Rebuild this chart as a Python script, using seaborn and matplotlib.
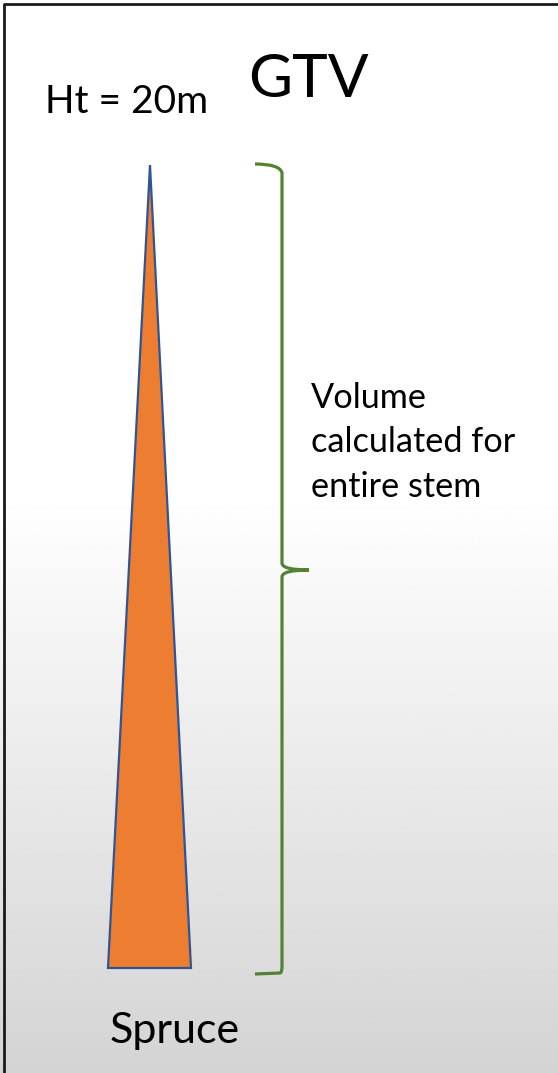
import numpy as np
import seaborn as sns
import matplotlib.pyplot as plt
from matplotlib.path import Path
from matplotlib.patches import PathPatch

# --------------------------------------------------
# DATA (pixel space of the 558 x 1073 slide crop)
# --------------------------------------------------

stem_x = [150, 108, 191]
stem_y = [165, 968, 968]

brace_x = [255, 280, 282, 282, 282, 309, 282, 282, 282, 282, 280, 255]
brace_y = [164, 164, 173, 563, 570, 570, 570, 577, 966, 973, 973, 974]

grad_pos = [0.0, 0.46, 1.0]
grad_val = [1.0, 1.0, 0.83]

labels = ["GTV", "Ht = 20m", "Volume\ncalculated for\nentire stem", "Spruce"]
label_x = [248, 45, 311, 110]
label_y = [97, 113, 408, 1043]
label_size = [43.5, 28, 24.7, 31]

# --------------------------------------------------
# FIGURE
# --------------------------------------------------

sns.set_theme(style="white")
plt.rcParams["font.family"] = ["Lato", "DejaVu Sans"]

fig = plt.figure(figsize=(5.58, 10.73), dpi=100)
ax = fig.add_axes([0, 0, 1, 1])
ax.set_xlim(0, 558)
ax.set_ylim(1073, 0)
ax.axis("off")

# background gradient
rows = np.linspace(0, 1, 400)
shade = np.interp(rows, grad_pos, grad_val)
img = np.repeat(shade[:, None], 2, axis=1)
ax.imshow(img, cmap="gray", vmin=0, vmax=1, extent=[0, 558, 1073, 0],
          aspect="auto", zorder=0)

# frame (top and left edges only visible in crop)
ax.plot([4, 4, 558], [1073, 4, 4], color="#1a1a1a", lw=2, zorder=5)

# stem
ax.fill(stem_x, stem_y, facecolor="#ED7D31", edgecolor="#2F5597",
        lw=1.6, joinstyle="miter", zorder=2)

# brace
codes = [Path.MOVETO, Path.CURVE3, Path.CURVE3, Path.LINETO,
         Path.CURVE3, Path.CURVE3, Path.CURVE3, Path.CURVE3,
         Path.LINETO, Path.CURVE3, Path.CURVE3, Path.LINETO]
brace = Path(np.column_stack([brace_x, brace_y]), codes)
ax.add_patch(PathPatch(brace, facecolor="none", edgecolor="#548235",
                       lw=2.3, capstyle="butt", zorder=3))

for txt, x, y, s in zip(labels, label_x, label_y, label_size):
    if "\n" in txt:
        for i, line in enumerate(txt.split("\n")):
            ax.text(x, y + i * 44.5, line, fontsize=s, ha="left",
                    va="baseline", color="black", zorder=4)
    else:
        ax.text(x, y, txt, fontsize=s, ha="left", va="baseline",
                color="black", zorder=4)

fig.savefig("out.png", dpi=100)
